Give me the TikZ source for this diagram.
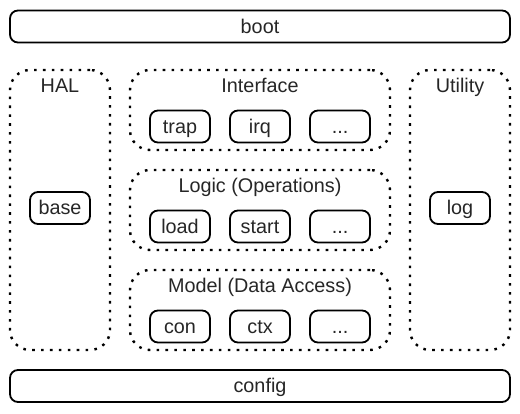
\documentclass[tikz,border=0pt]{standalone}
\usepackage{fontspec}
\setmainfont{Liberation Sans}
\begin{document}
\begin{tikzpicture}[x=1pt,y=-1pt,
    solidbox/.style={draw,line width=1.8pt,rounded corners=8pt,minimum height=32pt,inner sep=0pt},
    layerbox/.style={draw,line width=2.4pt,rounded corners=20pt,dash pattern=on 2.6pt off 6.3pt,inner sep=0pt},
    every node/.style={font=\fontsize{19.8}{22}\selectfont,text=black!85,text height=15.5pt,text depth=2pt}]
        \useasboundingbox (0,0) rectangle (520,413);

        \node[solidbox,minimum width=500pt] (boot) at (260,26.5) {boot};
        \node[solidbox,minimum width=500pt] (config) at (260,386) {config};

        \node[layerbox,minimum width=100pt,minimum height=280pt] (hal) at (60,210) {};
        \node[layerbox,minimum width=100pt,minimum height=280pt] (utility) at (460,210) {};
        \node[layerbox,minimum width=260pt,minimum height=80pt] (interface) at (260,110) {};
        \node[layerbox,minimum width=260pt,minimum height=80pt] (logic) at (260,210) {};
        \node[layerbox,minimum width=260pt,minimum height=80pt] (model) at (260,310) {};

        \node at (60,86) {HAL};
        \node at (460,86) {Utility};
        \node at (260,86) {Interface};
        \node at (260,186) {Logic (Operations)};
        \node at (260,286) {Model (Data Access)};

        \node[solidbox,minimum width=60pt] (base) at (60,208) {base};
        \node[solidbox,minimum width=60pt] (log) at (460,208) {log};

        \node[solidbox,minimum width=60pt] (trap) at (180,126.5) {trap};
        \node[solidbox,minimum width=60pt] (irq) at (260,126.5) {irq};
        \node[solidbox,minimum width=60pt] (more1) at (340,126.5) {...};

        \node[solidbox,minimum width=60pt] (load) at (180,226.5) {load};
        \node[solidbox,minimum width=60pt] (start) at (260,226.5) {start};
        \node[solidbox,minimum width=60pt] (more2) at (340,226.5) {...};

        \node[solidbox,minimum width=60pt] (con) at (180,326.5) {con};
        \node[solidbox,minimum width=60pt] (ctx) at (260,326.5) {ctx};
        \node[solidbox,minimum width=60pt] (more3) at (340,326.5) {...};
    \end{tikzpicture}
\end{document}
